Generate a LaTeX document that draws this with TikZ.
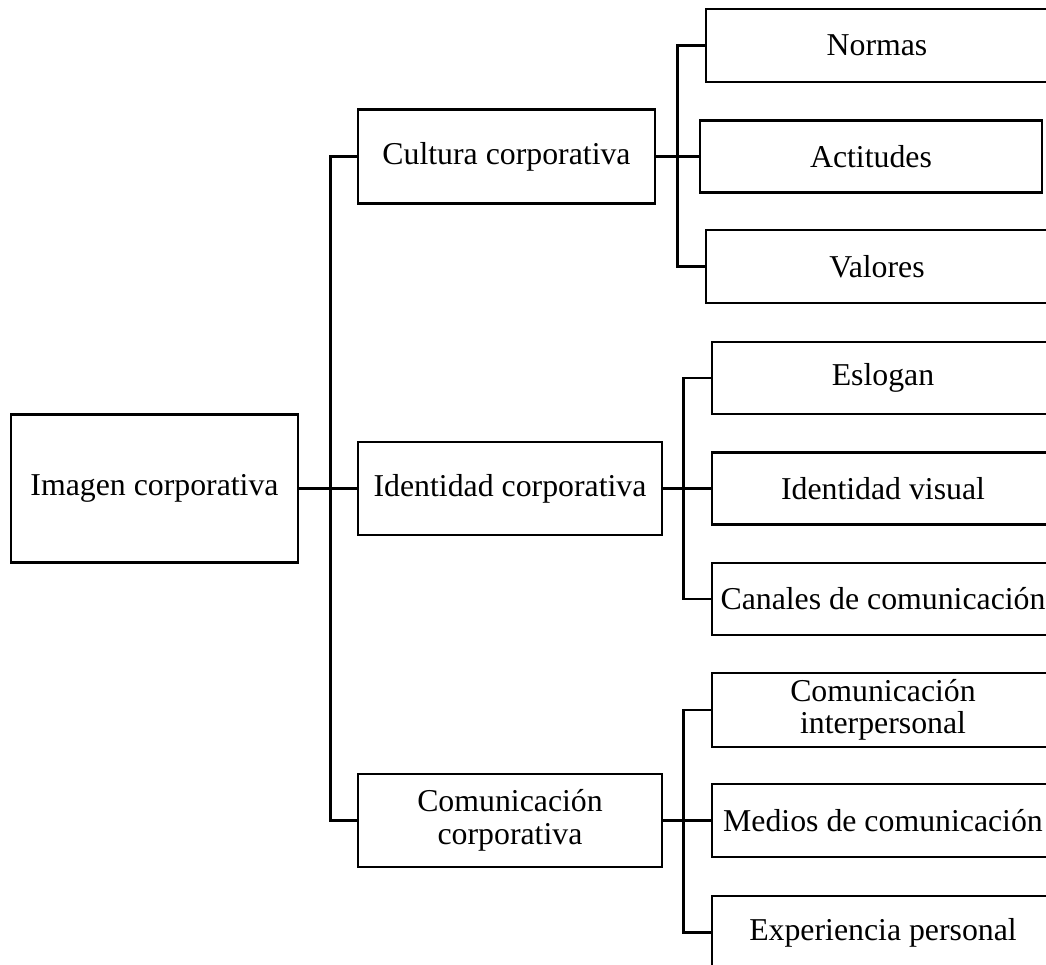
\documentclass[tikz,border=0pt]{standalone}
\usepackage{fontspec}
\setmainfont{Liberation Serif}
\begin{document}
\begin{tikzpicture}[x=1pt,y=-1pt,
  box/.style={draw=black,line width=2.6pt,rectangle,inner sep=0pt,align=center,
    font=\fontsize{31.8}{32.5}\selectfont},
  link/.style={draw=black,line width=2.6pt}]
\useasboundingbox (0,0) rectangle (1046,964);
\clip (0,0) rectangle (1046,964);
% level 1
\node[box,minimum width=287pt,minimum height=148pt] (imagen) at (154.5,488.5) {Imagen corporativa};
% level 2
\node[box,minimum width=297pt,minimum height=94pt] (cultura) at (506.5,156.5) {Cultura corporativa};
\node[box,minimum width=304pt,minimum height=93pt] (identidad) at (510,488.5) {Identidad corporativa};
\node[box,minimum width=304pt,minimum height=93pt] (comunic) at (510,820.5) {Comunicación\\corporativa};
% level 3
\node[box,minimum width=342pt,minimum height=73pt] (normas) at (877,45.5) {Normas};
\node[box,minimum width=342pt,minimum height=72pt] (actitudes) at (871,156.5) {Actitudes};
\node[box,minimum width=342pt,minimum height=73pt] (valores) at (877,266.5) {Valores};
\node[box,minimum width=342pt,minimum height=72pt] (eslogan) at (883,378) {Eslogan};
\node[box,minimum width=342pt,minimum height=72pt] (idvisual) at (883,488.5) {Identidad visual};
\node[box,minimum width=342pt,minimum height=72pt] (canales) at (883,599) {Canales de comunicación};
\node[box,minimum width=342pt,minimum height=74pt] (interp) at (883,710) {Comunicación\\interpersonal};
\node[box,minimum width=342pt,minimum height=73pt] (medios) at (883,820.5) {Medios de comunicación};
\node[box,minimum width=342pt,minimum height=73pt] (experiencia) at (883,932.5) {Experiencia personal};
% connectors level 1 -> 2
\draw[link] (imagen.east) -- (identidad.west);
\draw[link] (imagen.east) -- ++(31,0) |- (cultura.west);
\draw[link] (imagen.east) -- ++(31,0) |- (comunic.west);
% cultura -> children
\draw[link] (cultura.east) -- (actitudes.west);
\draw[link] (cultura.east) -- ++(21,0) |- (normas.west);
\draw[link] (cultura.east) -- ++(21,0) |- (valores.west);
% identidad -> children
\draw[link] (identidad.east) -- (idvisual.west);
\draw[link] (identidad.east) -- ++(20,0) |- (eslogan.west);
\draw[link] (identidad.east) -- ++(20,0) |- (canales.west);
% comunicacion -> children
\draw[link] (comunic.east) -- (medios.west);
\draw[link] (comunic.east) -- ++(20,0) |- (interp.west);
\draw[link] (comunic.east) -- ++(20,0) |- (experiencia.west);
\end{tikzpicture}
\end{document}
